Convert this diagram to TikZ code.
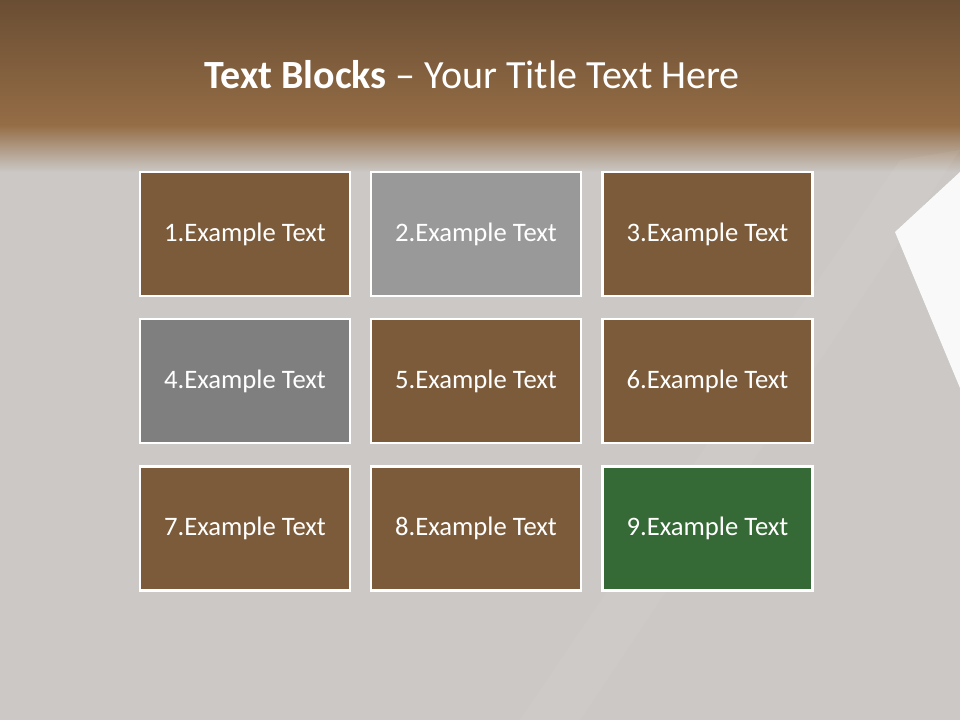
\documentclass[tikz,border=0pt]{standalone}
\usepackage{fontspec}
\setmainfont{Carlito}
\usetikzlibrary{positioning}

\definecolor{bandtop}{HTML}{6A4E33}
\definecolor{bandlow}{HTML}{956D46}
\definecolor{slide}{HTML}{CBC8C5}
\definecolor{blockbrown}{HTML}{7C5B3A}
\definecolor{blockgray}{HTML}{999999}
\definecolor{blockdark}{HTML}{7F7F7F}
\definecolor{blockgreen}{HTML}{356935}

\tikzset{
  block/.style={draw=white, line width=2pt, minimum width=157.5pt, minimum height=93pt,
    inner sep=0pt, text=white, font=\fontsize{20}{24}\selectfont},
}

\begin{document}
\begin{tikzpicture}[x=0.75pt, y=-0.75pt]
    \useasboundingbox (0, 0) rectangle (960, 720);
    % Background
    \fill[slide] (0, 0) rectangle (960, 720);
    \shade[top color=bandtop, bottom color=bandlow] (0, 0) rectangle (960, 126);
    \shade[top color=bandlow, bottom color=slide] (0, 125) rectangle (960, 172);
    % Light streaks
    \fill[white, opacity=0.9] (895, 232) -- (960, 172) -- (960, 388) -- cycle;
    \fill[white, opacity=0.05] (900, 160) -- (960, 150) -- (580, 720) -- (520, 720) -- cycle;
    % Title
    \node[text=white, font=\fontsize{30}{36}\selectfont] (title) at (472, 75)
        {\textbf{Text Blocks} -- Your Title Text Here};
    % Row 1
    \node[block, fill=blockbrown] (b1) at (245, 234) {1.Example Text};
    \node[block, fill=blockgray] (b2) at (476, 234) {2.Example Text};
    \node[block, fill=blockbrown] (b3) at (707.5, 234) {3.Example Text};
    % Row 2
    \node[block, fill=blockdark] (b4) at (245, 381) {4.Example Text};
    \node[block, fill=blockbrown] (b5) at (476, 381) {5.Example Text};
    \node[block, fill=blockbrown] (b6) at (707.5, 381) {6.Example Text};
    % Row 3
    \node[block, fill=blockbrown] (b7) at (245, 528.5) {7.Example Text};
    \node[block, fill=blockbrown] (b8) at (476, 528.5) {8.Example Text};
    \node[block, fill=blockgreen] (b9) at (707.5, 528.5) {9.Example Text};
\end{tikzpicture}
\end{document}
